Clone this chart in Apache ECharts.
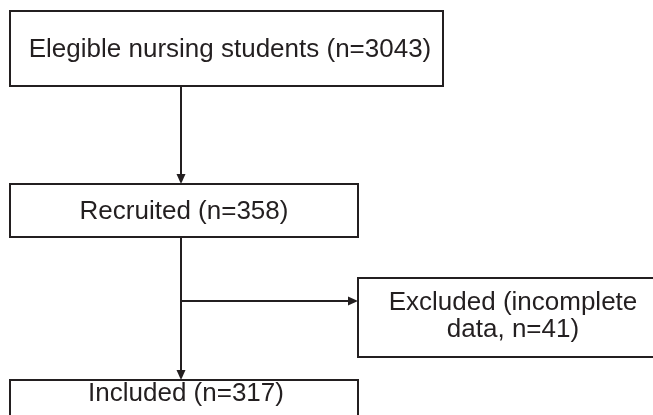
<!DOCTYPE html>
<html><head><meta charset="utf-8">
<script src="https://cdn.jsdelivr.net/npm/echarts@6/dist/echarts.min.js"></script>
<style>html,body{margin:0;padding:0;background:#fff}#c{width:653px;height:415px}</style>
</head><body><div id="c"></div>
<script>
// Stage data
const stageLabels = ['Elegible nursing students (n={n})', 'Recruited (n={n})', 'Excluded (incomplete\ndata, n={n})', 'Included (n={n})'];
const stageCounts = [3043, 358, 41, 317];

// Layout (pixel-space coordinates on hidden axes)
const boxX0 = [10, 10, 358, 10];
const boxY0 = [11, 184, 278, 380];
const boxX1 = [443, 358, 668, 358];
const boxY1 = [86, 237, 357, 440];
const textX = [230, 184, 513, 186];
const textY = [49.5, 212, 316, 394];

// Connectors: from -> to
const linkX0 = [181, 181, 181];
const linkY0 = [86, 237, 301];
const linkX1 = [181, 181, 358];
const linkY1 = [184, 380, 301];

const INK = '#231f20';
const FONT = '"Liberation Sans", Arial, Helvetica, sans-serif';

const boxData = stageCounts.map((c, i) => [boxX0[i], boxY0[i], boxX1[i], boxY1[i], textX[i], textY[i], i]);
const linkData = linkX0.map((x, i) => [x, linkY0[i], linkX1[i], linkY1[i]]);

const chart = echarts.init(document.getElementById('c'), null, {renderer: 'canvas'});
chart.setOption({
  animation: false,
  backgroundColor: '#ffffff',
  grid: {left: 0, right: 0, top: 0, bottom: 0},
  xAxis: {type: 'value', min: 0, max: 653, show: false},
  yAxis: {type: 'value', min: 0, max: 415, inverse: true, show: false},
  series: [
    {
      type: 'custom',
      clip: false,
      data: boxData,
      renderItem: function (params, api) {
        const p0 = api.coord([api.value(0), api.value(1)]);
        const p1 = api.coord([api.value(2), api.value(3)]);
        const pt = api.coord([api.value(4), api.value(5)]);
        const idx = api.value(6);
        const label = stageLabels[idx].replace('{n}', stageCounts[idx]);
        return {
          type: 'group',
          children: [
            {type: 'rect', shape: {x: p0[0], y: p0[1], width: p1[0] - p0[0], height: p1[1] - p0[1]},
             style: {fill: '#ffffff', stroke: INK, lineWidth: 2}},
            {type: 'text', style: {text: label, x: pt[0], y: pt[1], fill: INK, fontSize: 26, fontFamily: FONT,
              align: 'center', verticalAlign: 'middle', lineHeight: 27}}
          ]
        };
      }
    },
    {
      type: 'custom',
      clip: false,
      data: linkData,
      renderItem: function (params, api) {
        const a = api.coord([api.value(0), api.value(1)]);
        const b = api.coord([api.value(2), api.value(3)]);
        const dx = b[0] - a[0], dy = b[1] - a[1];
        const len = Math.sqrt(dx * dx + dy * dy);
        const ux = dx / len, uy = dy / len;
        const L = 10, W = 4.5;
        const base = [b[0] - ux * L, b[1] - uy * L];
        return {
          type: 'group',
          children: [
            {type: 'line', shape: {x1: a[0], y1: a[1], x2: base[0], y2: base[1]},
             style: {stroke: INK, lineWidth: 2}},
            {type: 'polygon', shape: {points: [[b[0], b[1]], [base[0] - uy * W, base[1] + ux * W], [base[0] + uy * W, base[1] - ux * W]]},
             style: {fill: INK}}
          ]
        };
      }
    }
  ]
});
</script>
</body></html>
